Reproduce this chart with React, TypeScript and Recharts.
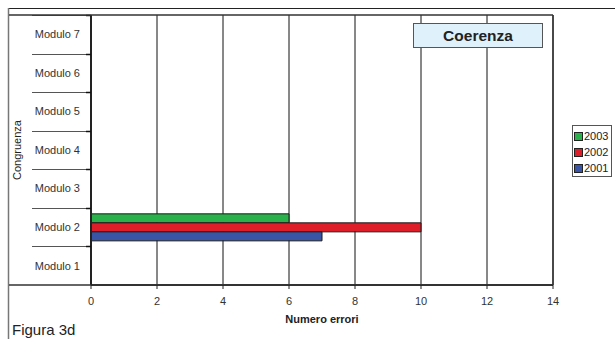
import React from 'react';
import { BarChart, Bar, XAxis, YAxis, CartesianGrid, Legend } from 'recharts';

const categories = ['Modulo 1', 'Modulo 2', 'Modulo 3', 'Modulo 4', 'Modulo 5', 'Modulo 6', 'Modulo 7'];
const s2001 = [0, 7, 0, 0, 0, 0, 0];
const s2002 = [0, 10, 0, 0, 0, 0, 0];
const s2003 = [0, 6, 0, 0, 0, 0, 0];
const xTicks = [0, 2, 4, 6, 8, 10, 12, 14];

const seriesNames = ['2003', '2002', '2001'];
const seriesColors = ['#2bb14b', '#de1f29', '#3a55a5'];

const data = categories.map((name, i) => ({
  name,
  y2001: s2001[i],
  y2002: s2002[i],
  y2003: s2003[i],
}));

const FONT = '"Liberation Sans", Arial, sans-serif';

const YTick = (props: any) => {
  const { x, y, payload } = props;
  const half = payload && payload.offset != null ? payload.offset : 0;
  const axisX = x + 11;
  const sepY = Math.round(y - half) + 0.5;
  return (
    <g>
      <line x1={32} x2={axisX - 5} y1={sepY} y2={sepY} stroke="#555" strokeWidth={1} />
      <line x1={axisX - 5} x2={axisX} y1={sepY} y2={sepY} stroke="#111" strokeWidth={1.5} />
      <text x={x} y={y} dy="0.355em" textAnchor="end" fontSize={11} fill="#333" fontFamily={FONT}>
        {payload.value}
      </text>
    </g>
  );
};

const YLabel = (props: any) => {
  const vb = props.viewBox || { x: 0, y: 0, width: 0, height: 0 };
  const cx = vb.x + 17;
  const cy = vb.y + vb.height / 2;
  return (
    <text
      x={cx}
      y={cy}
      dy="0.355em"
      textAnchor="middle"
      transform={`rotate(-90 ${cx} ${cy})`}
      fontSize={11}
      fill="#222"
      fontFamily={FONT}
    >
      Congruenza
    </text>
  );
};

const LegendBox = (props: any) => {
  const payload = props.payload || [];
  const ordered = seriesNames
    .map((n) => payload.find((p: any) => p.value === n))
    .filter(Boolean);
  return (
    <div
      style={{
        border: '1px solid #555',
        background: '#fff',
        width: 40,
        height: 52,
        boxSizing: 'border-box',
        paddingTop: 2,
        fontFamily: FONT,
      }}
    >
      {ordered.map((p: any) => (
        <div key={p.value} style={{ display: 'flex', alignItems: 'center', height: 16.3, marginLeft: 1 }}>
          <span
            style={{
              display: 'inline-block',
              width: 7,
              height: 7,
              background: p.color,
              border: '1px solid #222',
              marginRight: 1,
            }}
          />
          <span style={{ fontSize: 11, color: '#222', lineHeight: '11px' }}>{p.value}</span>
        </div>
      ))}
    </div>
  );
};

export default function App() {
  return (
    <div
      style={{
        position: 'absolute',
        left: 0,
        top: 0,
        width: 615,
        height: 339,
        overflow: 'hidden',
        background: '#fff',
        fontFamily: FONT,
      }}
    >
      <BarChart
        width={615}
        height={339}
        data={data}
        layout="vertical"
        margin={{ top: 15, right: 62, bottom: 0, left: 0 }}
        barGap={0}
        barSize={9}
      >
        <CartesianGrid horizontal={false} stroke="#111" strokeWidth={1} />
        <XAxis
          type="number"
          domain={[0, 14]}
          ticks={xTicks}
          height={54}
          tickSize={4}
          tickMargin={8}
          interval={0}
          axisLine={{ stroke: '#333', strokeWidth: 2 }}
          tickLine={{ stroke: '#222' }}
          tick={{ fontSize: 11, fill: '#333', fontFamily: FONT }}
          label={{
            value: 'Numero errori',
            position: 'insideBottom',
            offset: 16,
            fill: '#222',
            fontSize: 11,
            fontWeight: 'bold',
            fontFamily: FONT,
          }}
        />
        <YAxis
          type="category"
          dataKey="name"
          reversed
          width={91}
          tickLine={false}
          tickSize={0}
          tickMargin={11}
          interval={0}
          axisLine={{ stroke: '#222', strokeWidth: 2 }}
          tick={<YTick />}
          label={<YLabel />}
        />
        <Legend
          layout="vertical"
          align="center"
          verticalAlign="middle"
          wrapperStyle={{ left: 572, top: 125, width: 40, height: 52 }}
          content={<LegendBox />}
        />
        <Bar dataKey="y2003" name={seriesNames[0]} fill={seriesColors[0]} stroke="#1a1a1a" strokeWidth={1} isAnimationActive={false} />
        <Bar dataKey="y2002" name={seriesNames[1]} fill={seriesColors[1]} stroke="#1a1a1a" strokeWidth={1} isAnimationActive={false} />
        <Bar dataKey="y2001" name={seriesNames[2]} fill={seriesColors[2]} stroke="#1a1a1a" strokeWidth={1} isAnimationActive={false} />
      </BarChart>
      <svg
        width={615}
        height={339}
        style={{ position: 'absolute', left: 0, top: 0, pointerEvents: 'none' }}
      >
        <line x1={8} x2={615} y1={8.5} y2={8.5} stroke="#222" strokeWidth={1} />
        <line x1={8.5} x2={8.5} y1={8} y2={339} stroke="#777" strokeWidth={1.5} />
        <line x1={9} x2={553} y1={15} y2={15} stroke="#333" strokeWidth={1.5} />
        <line x1={9} x2={91} y1={285} y2={285} stroke="#333" strokeWidth={1.5} />
        <line x1={553} x2={553} y1={15} y2={285} stroke="#333" strokeWidth={1.5} />
        <rect x={413.5} y={23.5} width={129} height={24} fill="#dff1fb" stroke="#555" strokeWidth={1} />
        <text x={478} y={40.5} textAnchor="middle" fontSize={15.5} fontWeight="bold" fill="#222" fontFamily={FONT}>
          Coerenza
        </text>
        <text x={12} y={335} fontSize={15} fill="#222" fontFamily={FONT}>
          Figura 3d
        </text>
      </svg>
    </div>
  );
}
